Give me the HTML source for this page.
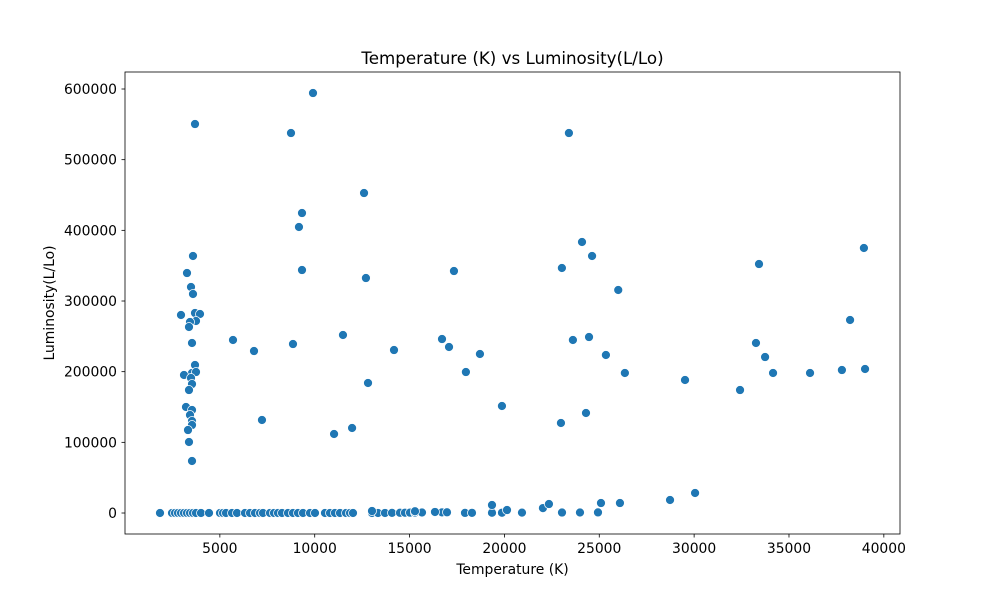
<!DOCTYPE html>
<html><head><meta charset="utf-8"><style>
body{margin:0;background:#fff;}
svg{display:block;font-family:"DejaVu Sans","Liberation Sans",sans-serif;}
</style></head><body>
<svg id="chart" width="1000" height="600" viewBox="0 0 1000 600">
<rect width="1000" height="600" fill="#fff"/>
<text x="512.5" y="64" text-anchor="middle" font-size="16.7">Temperature (K) vs Luminosity(L/Lo)</text>
<text x="512.5" y="574" text-anchor="middle" font-size="13.9">Temperature (K)</text>
<text transform="translate(54,303) rotate(-90)" text-anchor="middle" font-size="13.9">Luminosity(L/Lo)</text>
<g id="ticks"></g>
<g id="points"></g>
<rect x="125" y="72" width="775" height="462" fill="none" stroke="#000" stroke-width="0.8"/>
</svg>
<script>
const xTicks = [5000,10000,15000,20000,25000,30000,35000,40000];
const yTicks = [0,100000,200000,300000,400000,500000,600000];
const temperatures = [3584,3268,3479,3584,2952,3690,3953,3742,3426,3373,3532,5693,6800,3690,3532,3742,3110,3479,3532,3373,3215,3532,3426,3532,3532,3321,7220,3373,3532,3690,
8750,9910,9170,9330,9330,8855,12600,12700,11490,12810,11020,11970,14180,16710,17080,17340,18710,17970,19870,23400,23030,24090,24620,23610,24460,22980,24300,25350,26000,26350,29520,32420,33260,33420,33740,34160,36110,37790,38220,38950,39010,
1845,2477,2636,2794,2952,3110,3268,3426,3584,3742,4006,4428,5007,5166,5324,5640,5904,6325,6589,6853,7116,7274,7643,7854,8065,8276,8592,8855,9119,9383,9752,10015,10542,10806,11069,11333,11649,11860,12018,13020,13336,13705,14074,14495,14759,15022,15286,15655,16340,16710,16973,17922,18290,19345,19872,20926,23035,23983,24932,
13020,15286,16340,19345,20136,22031,22347,25090,26090,28730,30050];
const luminosities = [363700,339600,319800,309900,280200,283000,281600,271700,270300,263200,240600,244800,229200,209400,198100,199500,195300,191000,182500,174000,150000,145700,138700,130200,124500,117400,131600,100500,73600,550400,
537700,594300,404700,424500,343800,239100,452800,332500,251900,184000,111800,120300,230600,246200,234900,342400,225000,199500,151400,537700,346700,383500,363700,244800,249000,127400,141500,223600,315600,198100,188200,174000,240600,352300,220700,198100,198100,202300,273100,375000,203800,
0.001,0.002,0.003,0.01,0.005,0.02,0.0004,0.1,0.2,0.05,0.3,0.8,1.2,0.6,0.9,2,1.5,3,0.7,5,1.1,0.4,8,12,0.03,0.06,0.5,1,2,4,6,10,20,40,80,0.2,0.3,1,2,3,5,100,200,300,400,500,600,700,800,900,1000,150,250,350,450,550,650,750,850,
2800,2500,1500,11300,4200,7000,12700,14100,14100,18400,28300];
const X0=125,X1=900,XMIN=0,XMAX=40852,Y0=534,Y1=72,YMIN=-29700,YMAX=624060;
const sx=v=>X0+(v-XMIN)/(XMAX-XMIN)*(X1-X0);
const sy=v=>Y0-(v-YMIN)/(YMAX-YMIN)*(Y0-Y1);
const NS="http://www.w3.org/2000/svg";
const tg=document.getElementById('ticks');
xTicks.forEach(t=>{
  const l=document.createElementNS(NS,'line');
  l.setAttribute('x1',sx(t));l.setAttribute('x2',sx(t));l.setAttribute('y1',534);l.setAttribute('y2',537.5);
  l.setAttribute('stroke','#000');l.setAttribute('stroke-width','0.8');
  
  
  tg.appendChild(l);
  const tx=document.createElementNS(NS,'text');
  tx.setAttribute('x',sx(t));tx.setAttribute('y',553);tx.setAttribute('text-anchor','middle');tx.setAttribute('font-size','13.9');
  tx.textContent=t;
  
  
  tg.appendChild(tx);
});
yTicks.forEach(t=>{
  const l=document.createElementNS(NS,'line');
  l.setAttribute('x1',121.5);l.setAttribute('x2',125);l.setAttribute('y1',sy(t));l.setAttribute('y2',sy(t));
  l.setAttribute('stroke','#000');l.setAttribute('stroke-width','0.8');
  
  
  tg.appendChild(l);
  const tx=document.createElementNS(NS,'text');
  tx.setAttribute('x',117);tx.setAttribute('y',sy(t)+5);tx.setAttribute('text-anchor','end');tx.setAttribute('font-size','13.9');
  tx.textContent=t;
  
  
  tg.appendChild(tx);
});
const pg=document.getElementById('points');
temperatures.forEach((t,i)=>{
  const c=document.createElementNS(NS,'circle');
  c.setAttribute('cx',sx(t));c.setAttribute('cy',sy(luminosities[i]));c.setAttribute('r',4.5);
  c.setAttribute('fill','#1f77b4');c.setAttribute('stroke','#fff');c.setAttribute('stroke-width','0.75');
  
  
  pg.appendChild(c);
});
</script>
</body></html>
